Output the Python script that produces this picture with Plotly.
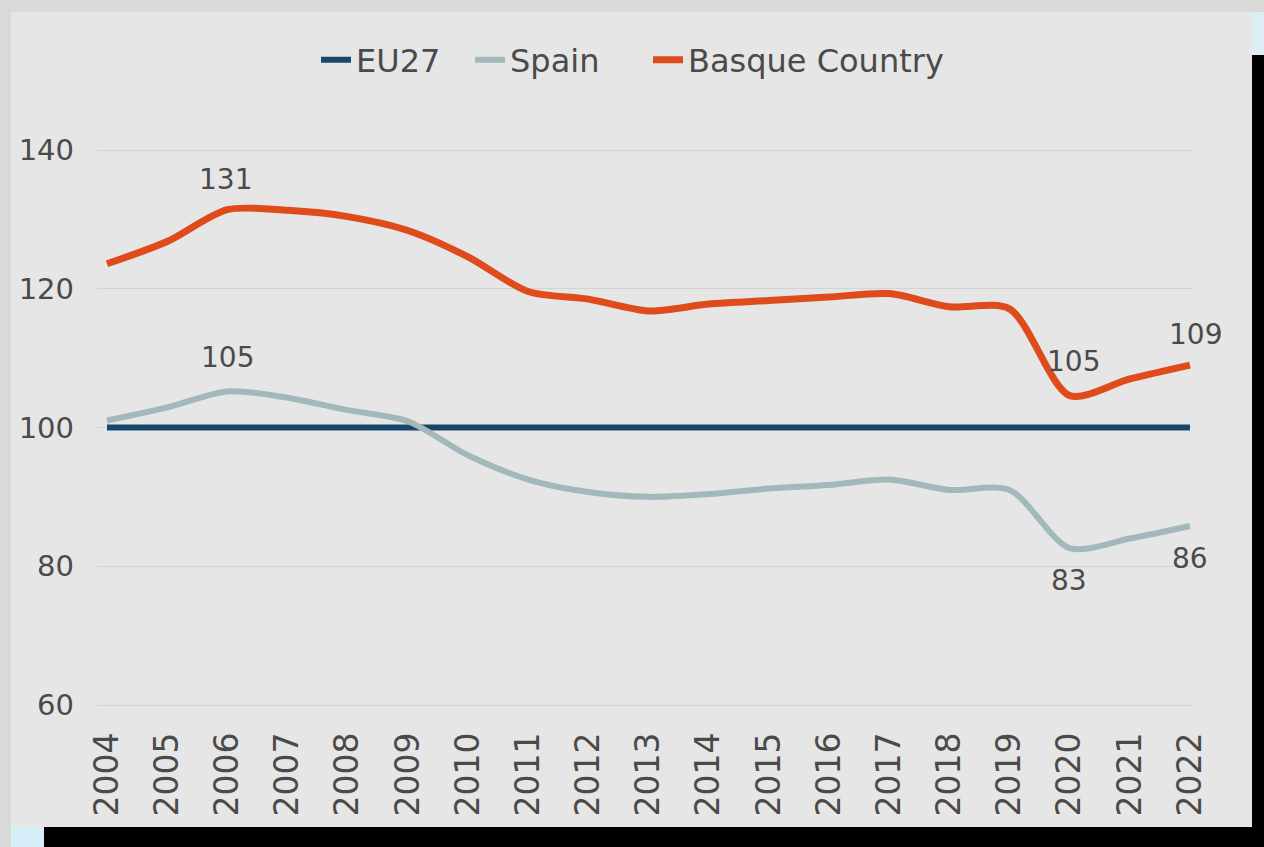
import plotly.graph_objects as go

years = list(range(2004, 2023))
eu27 = [100] * 19
spain = [101.0, 102.9, 105.2, 104.3, 102.5, 100.9, 96.0, 92.5, 90.7, 90.0, 90.4, 91.2, 91.7, 92.5, 91.0, 91.0, 82.6, 84.0, 85.8]
basque = [123.6, 126.8, 131.4, 131.3, 130.4, 128.4, 124.6, 119.6, 118.5, 116.8, 117.8, 118.3, 118.8, 119.3, 117.4, 117.1, 104.6, 107.0, 109.0]
y_ticks = [60, 80, 100, 120, 140]

# labels: (year, series, text, xshift, yshift)
labels = [
    (2006, "basque", "131", -2, 30),
    (2006, "spain", "105", 0, 34),
    (2020, "basque", "105", 4, 34),
    (2022, "basque", "109", 5, 31),
    (2020, "spain", "83", -1, -32),
    (2022, "spain", "86", 0, -32),
]

W, H = 1264, 847
L, R, T, B = 97, 1192, 95, 712

def xp(px):
    return (px - L) / (R - L)

def yp(py):
    return (B - py) / (B - T)

FONT = "DejaVu Sans"
TXT = "#4a4a4a"

fig = go.Figure()
fig.add_trace(go.Scatter(x=years, y=eu27, name="EU27", mode="lines", legend="legend",
                         line=dict(color="#17466b", width=6)))
fig.add_trace(go.Scatter(x=years, y=spain, name="Spain", mode="lines", legend="legend2",
                         line=dict(color="#a2b8ba", width=6, shape="spline", smoothing=0.8)))
fig.add_trace(go.Scatter(x=years, y=basque, name="Basque Country", mode="lines", legend="legend3",
                         line=dict(color="#df4b1b", width=7, shape="spline", smoothing=0.8)))

series = {"basque": basque, "spain": spain}
annotations = []
for yr, s, txt, dx, dy in labels:
    annotations.append(dict(x=yr, y=series[s][years.index(yr)], xref="x", yref="y",
                            text=txt, showarrow=False, xshift=dx, yshift=dy,
                            font=dict(family=FONT, size=28, color=TXT)))

shapes = [
    dict(type="rect", xref="paper", yref="paper", x0=xp(11), x1=xp(1252), y0=yp(827), y1=yp(12),
         fillcolor="#e6e6e6", line=dict(width=0), layer="below"),
    dict(type="rect", xref="paper", yref="paper", x0=xp(1252), x1=xp(1264), y0=yp(847), y1=yp(55),
         fillcolor="#000000", line=dict(width=0), layer="below"),
    dict(type="rect", xref="paper", yref="paper", x0=xp(44), x1=xp(1264), y0=yp(847), y1=yp(827),
         fillcolor="#000000", line=dict(width=0), layer="below"),
    dict(type="rect", xref="paper", yref="paper", x0=xp(1252), x1=xp(1264), y0=yp(55), y1=yp(12),
         fillcolor="#dbeef3", line=dict(width=0), layer="below"),
    dict(type="rect", xref="paper", yref="paper", x0=xp(11), x1=xp(44), y0=yp(847), y1=yp(827),
         fillcolor="#d6eef8", line=dict(width=0), layer="below"),
]

px_per_unit = (705 - 150) / 80
y_top = 140 + (150 - T) / px_per_unit
y_bot = 60 - (B - 705) / px_per_unit
px_per_year = (1190 - 107) / 18
x_lo = 2004 - (107 - L) / px_per_year
x_hi = 2022 + (R - 1190) / px_per_year

def leg(px):
    return dict(orientation="h", x=xp(px), xanchor="left", y=yp(60), yanchor="middle",
                font=dict(family=FONT, size=32, color=TXT), bgcolor="rgba(0,0,0,0)",
                itemwidth=30)

fig.update_layout(
    width=W, height=H,
    margin=dict(l=L, r=W - R, t=T, b=H - B, autoexpand=False),
    paper_bgcolor="#d9d9d9",
    plot_bgcolor="rgba(0,0,0,0)",
    font=dict(family=FONT, color=TXT),
    showlegend=True,
    legend=leg(316),
    legend2=leg(470),
    legend3=leg(648),
    xaxis=dict(range=[x_lo, x_hi], tickmode="array", tickvals=years,
               ticktext=[str(y) for y in years], tickangle=-90,
               tickfont=dict(family=FONT, size=33, color=TXT), showgrid=False,
               zeroline=False, showline=False, ticks="", ticklabelstandoff=13,
               automargin=False, fixedrange=True),
    yaxis=dict(range=[y_bot, y_top], tickmode="array", tickvals=y_ticks,
               tickfont=dict(family=FONT, size=29, color=TXT), showgrid=True,
               gridcolor="#d3d3d3", gridwidth=1, zeroline=False, showline=False,
               ticks="", ticklabelstandoff=22, automargin=False, fixedrange=True),
    shapes=shapes,
    annotations=annotations,
)

fig.write_html("out.html", config={"displayModeBar": False},
               post_script="document.body.style.margin='0';document.body.style.background='#d9d9d9';")
